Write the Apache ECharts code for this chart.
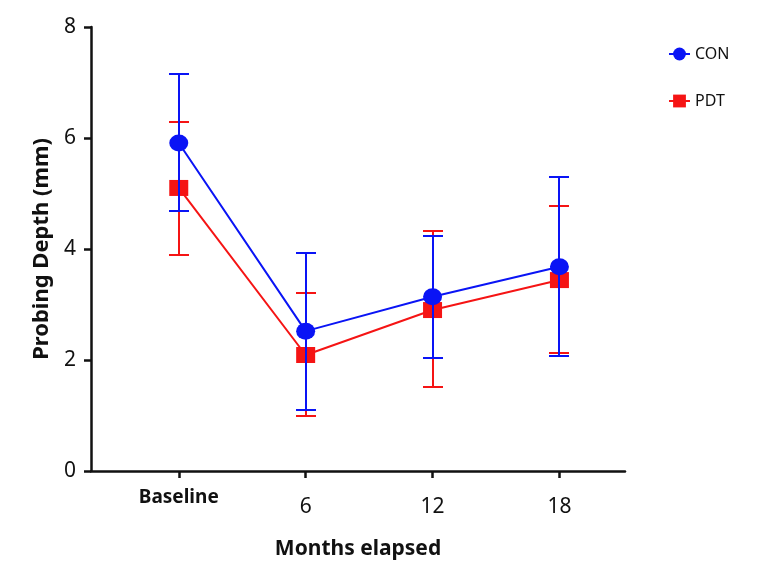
<!DOCTYPE html>
<html>
<head>
<meta charset="utf-8">
<script src="https://cdn.jsdelivr.net/npm/echarts@6/dist/echarts.min.js"></script>
<style>
  html, body { margin: 0; padding: 0; background: #fff; }
  #chart { width: 780px; height: 577px; }
</style>
</head>
<body>
<div id="chart"></div>
<script>
// months, Baseline = 0
var months = [0, 6, 12, 18];
var monthLabels = ['Baseline', '6', '12', '18'];

var conMean = [5.91, 2.52, 3.14, 3.68];
var conLow = [4.68, 1.10, 2.04, 2.07];
var conHigh = [7.15, 3.93, 4.23, 5.30];

var pdtMean = [5.10, 2.09, 2.90, 3.44];
var pdtLow = [3.89, 0.99, 1.51, 2.13];
var pdtHigh = [6.29, 3.21, 4.32, 4.77];

var yTicks = [0, 2, 4, 6, 8];

function pairs(xs, ys) {
    return xs.map(function (x, i) { return [x, ys[i]]; });
}

function bars(xs, lo, hi) {
    return xs.map(function (x, i) { return [x, lo[i], hi[i]]; });
}

// error bars: vertical line + caps, snapped to whole pixels
function errorBar(color) {
    return function (params, api) {
        var lo = api.coord([api.value(0), api.value(1)]);
        var hi = api.coord([api.value(0), api.value(2)]);
        var x = Math.round(lo[0]);
        var y1 = Math.round(lo[1]);
        var y2 = Math.round(hi[1]);
        var w = 10;
        var st = { stroke: color, lineWidth: 2 };
        return {
            type: 'group',
            children: [
                { type: 'line', shape: { x1: x, y1: y1, x2: x, y2: y2 }, style: st },
                { type: 'line', shape: { x1: x - w, y1: y1, x2: x + w, y2: y1 }, style: st },
                { type: 'line', shape: { x1: x - w, y1: y2, x2: x + w, y2: y2 }, style: st }
            ]
        };
    };
}

var blue = '#0a14f5';
var red = '#f51414';

var option = {
    animation: false,
    backgroundColor: '#fff',
    textStyle: { fontFamily: 'Noto Sans' },
    grid: { left: 91, right: 155, top: 27, bottom: 106 },
    legend: {
        orient: 'vertical',
        left: 663,
        top: 41,
        itemGap: 31,
        itemWidth: 21,
        itemHeight: 16,
        data: ['CON', 'PDT'],
        textStyle: { fontSize: 16, color: '#111', fontFamily: 'Noto Sans' }
    },
    xAxis: {
        type: 'value',
        min: -4.15,
        max: 21.1,
        name: 'Months elapsed',
        nameLocation: 'middle',
        nameGap: 68,
        nameTextStyle: { fontSize: 21, fontWeight: 'bold', color: '#111' },
        splitLine: { show: false },
        axisLine: { onZero: false, lineStyle: { color: '#111', width: 2.5 } },
        axisTick: { customValues: months, length: 7, lineStyle: { color: '#111', width: 2.5 } },
        axisLabel: {
            customValues: months,
            margin: 17,
            color: '#111',
            fontSize: 21,
            formatter: function (v) {
                var i = months.indexOf(v);
                return i === 0 ? '{b|' + monthLabels[i] + '}' : '{n|' + monthLabels[i] + '}';
            },
            rich: {
                b: { fontSize: 19, fontWeight: 'bold', color: '#111' },
                n: { fontSize: 21, color: '#111', padding: [9, 0, 0, 0] }
            }
        }
    },
    yAxis: {
        type: 'value',
        min: 0,
        max: 8,
        interval: 2,
        name: 'Probing Depth (mm)',
        nameLocation: 'middle',
        nameGap: 27,
        nameTextStyle: { fontSize: 22, fontWeight: 'bold', color: '#111' },
        splitLine: { show: false },
        axisLine: { show: true, onZero: false, lineStyle: { color: '#111', width: 2.5 } },
        axisTick: { show: true, length: 7, lineStyle: { color: '#111', width: 2.5 } },
        axisLabel: {
            color: '#111',
            fontSize: 21,
            margin: 15,
            formatter: function (v) { return yTicks.indexOf(v) >= 0 ? String(v) : ''; }
        }
    },
    series: [
        {
            type: 'custom',
            name: 'PDT err',
            z: 1,
            renderItem: errorBar(red),
            data: bars(months, pdtLow, pdtHigh)
        },
        {
            type: 'line',
            name: 'PDT',
            z: 2,
            symbol: 'rect',
            symbolSize: [19, 16],
            color: red,
            lineStyle: { color: red, width: 2 },
            itemStyle: { color: red },
            data: pairs(months, pdtMean)
        },
        {
            type: 'custom',
            name: 'CON err',
            z: 3,
            renderItem: errorBar(blue),
            data: bars(months, conLow, conHigh)
        },
        {
            type: 'line',
            name: 'CON',
            z: 4,
            symbol: 'circle',
            symbolSize: [19, 17],
            color: blue,
            lineStyle: { color: blue, width: 2 },
            itemStyle: { color: blue },
            data: pairs(months, conMean)
        }
    ]
};

var myChart = echarts.init(document.getElementById('chart'));
myChart.setOption(option);
</script>
</body>
</html>
